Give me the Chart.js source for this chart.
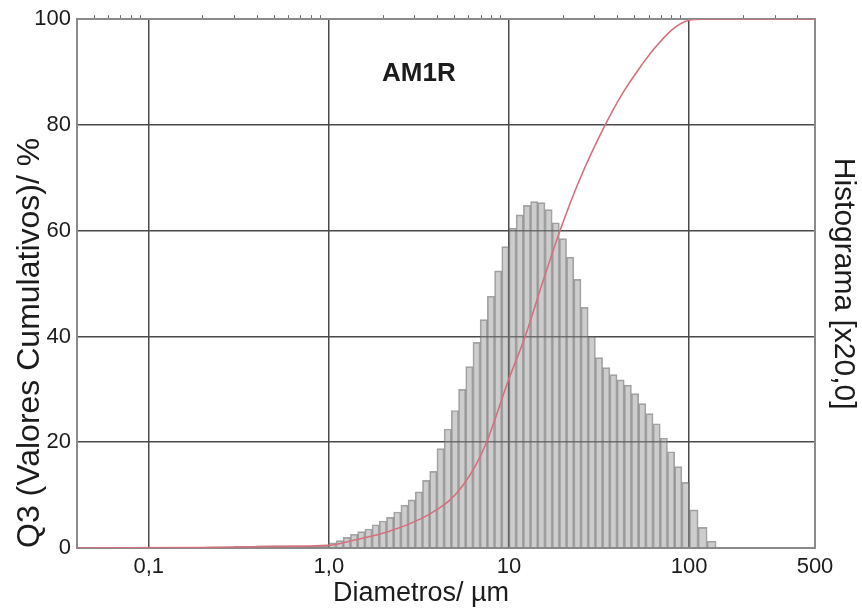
<!DOCTYPE html>
<html>
<head>
<meta charset="utf-8">
<script src="https://cdn.jsdelivr.net/npm/chart.js@4.4.1/dist/chart.umd.min.js"></script>
<style>
    body { margin: 0; background: #fff; }
    #wrap { width: 862px; height: 610px; position: relative; }
</style>
</head>
<body>
<div id="wrap"><canvas id="granuloChart"></canvas></div>
<script>
// histogram classes (µm) and heights
const histDiameters = [0.25, 0.35, 0.45, 0.55, 0.65, 0.75, 0.85, 0.95,
    1.047, 1.148, 1.259, 1.380, 1.514, 1.660, 1.820, 1.995, 2.188, 2.399,
    2.630, 2.884, 3.162, 3.467, 3.802, 4.169, 4.571, 5.012, 5.495, 6.026,
    6.607, 7.244, 7.943, 8.710, 9.550, 10.47, 11.48, 12.59, 13.80, 15.14,
    16.60, 18.20, 19.95, 21.88, 23.99, 26.30, 28.84, 31.62, 34.67, 38.02,
    41.69, 45.71, 50.12, 54.95, 60.26, 66.07, 72.44, 79.43, 87.10, 95.50,
    105.9, 118.9, 133.4];
const histValues = [0.2, 0.3, 0.4, 0.4, 0.4, 0.3, 0.3, 0.4,
    1.0, 1.4, 2.0, 2.6, 3.1, 3.6, 4.4, 5.1, 5.8, 6.8,
    8.1, 9.1, 10.6, 12.8, 14.5, 18.8, 22.5, 26, 30, 34.3,
    38.9, 43.2, 47.6, 52.4, 57, 60.5, 63, 64.8, 65.5, 65.3,
    64, 61.5, 58.5, 55, 50.8, 45.5, 40, 36, 34.1, 32.8,
    31.8, 30.8, 29.2, 27.3, 25.4, 23.5, 20.8, 18.2, 15.4, 12.4,
    7.2, 3.9, 1.3];

// cumulative Q3 curve
const q3Diameters = [0.04, 0.2, 0.5, 1.0, 1.39, 2.15, 3.28, 4.0, 4.64, 5.48, 6.5, 7.55, 10,
    12.3, 15.3, 19.2, 24.5, 34.2, 42.4, 55, 62.5, 80.3, 100, 118, 500];
const q3Values = [0, 0.1, 0.3, 0.5, 1.5, 3.1, 5.6, 7.3, 8.9, 11.6, 15.5, 20.2, 32,
    40, 50, 60, 69.4, 80, 85.8, 91.5, 94, 98, 99.8, 100, 100];

const xTickValues = [0.1, 1, 10, 100, 500];
const xTickLabels = ['0,1', '1,0', '10', '100', '500'];
const topMinorTicks = [0.05, 0.06, 0.07, 0.08, 0.09, 0.2, 0.3, 0.4, 0.5, 0.6, 0.7, 0.8, 0.9,
    2, 3, 4, 5, 6, 7, 8, 9, 20, 30, 40, 50, 60, 70, 80, 90, 200, 300, 400];
const sampleName = 'AM1R';
const xTitle = 'Diametros/ µm';

const textColor = '#1c1c1c';
const fontFamily = "'Liberation Sans', Arial, sans-serif";

const histData = histDiameters.map((d, i) => ({ x: d, y: histValues[i] }));
const q3Data = q3Diameters.map((d, i) => ({ x: d, y: q3Values[i] }));

// sample label inside the plot and the x title (sits left of centre in the original)
const extraText = {
    id: 'extraText',
    afterDraw(chart) {
        const ctx = chart.ctx;
        const x = chart.scales.x.getPixelForValue(3.16);
        const y = chart.scales.y.getPixelForValue(89.6);
        ctx.save();
        ctx.fillStyle = textColor;
        ctx.textAlign = 'center';
        ctx.textBaseline = 'middle';
        ctx.font = 'bold 26px ' + fontFamily;
        ctx.fillText(sampleName, x, y);
        ctx.font = '27px ' + fontFamily;
        ctx.fillText(xTitle, chart.chartArea.left + 344, chart.height - 16);
        ctx.restore();
    }
};

const ctx = document.getElementById('granuloChart');
new Chart(ctx, {
    type: 'bar',
    data: {
        datasets: [{
            type: 'line',
            label: 'Q3',
            data: q3Data,
            borderColor: 'rgb(214,112,124)',
            borderWidth: 1.6,
            pointRadius: 0,
            fill: false,
            cubicInterpolationMode: 'monotone',
            order: 0
        }, {
            label: 'Histograma',
            data: histData,
            backgroundColor: 'rgba(150,150,150,0.48)',
            borderColor: 'rgba(105,105,105,0.6)',
            borderWidth: 1,
            barPercentage: 1,
            categoryPercentage: 1,
            barThickness: 'flex',
            order: 1
        }]
    },
    options: {
        responsive: true,
        maintainAspectRatio: false,
        animation: false,
        layout: { padding: 0 },
        plugins: {
            legend: { display: false },
            tooltip: { enabled: false }
        },
        scales: {
            x: {
                type: 'logarithmic',
                position: 'bottom',
                min: 0.04,
                max: 500,
                offset: false,
                afterBuildTicks: (scale) => {
                    scale.ticks = xTickValues.map(v => ({ value: v }));
                },
                afterFit: (scale) => { scale.height = 62; },
                ticks: {
                    autoSkip: false,
                    maxRotation: 0,
                    padding: 6,
                    color: textColor,
                    font: { family: fontFamily, size: 22 },
                    callback: (value) => {
                        const i = xTickValues.indexOf(value);
                        return i >= 0 ? xTickLabels[i] : '';
                    }
                },
                grid: { color: '#4a4a4a', lineWidth: 1.5, drawTicks: false, offset: false },
                border: { color: '#8a8a8a', width: 2 }
            },
            x2: {
                type: 'logarithmic',
                axis: 'x',
                position: 'top',
                min: 0.04,
                max: 500,
                offset: false,
                afterBuildTicks: (scale) => {
                    scale.ticks = topMinorTicks.map(v => ({ value: v }));
                },
                afterFit: (scale) => { scale.height = 18; },
                ticks: { display: false },
                grid: { drawOnChartArea: false, offset: false, tickLength: 4, color: '#6a6a6a', lineWidth: 1 },
                border: { color: '#8a8a8a', width: 2 }
            },
            y: {
                position: 'left',
                min: 0,
                max: 100,
                afterFit: (scale) => { scale.width = 77; },
                ticks: {
                    stepSize: 20,
                    padding: 6,
                    color: textColor,
                    font: { family: fontFamily, size: 22 }
                },
                grid: { color: '#4a4a4a', lineWidth: 1.5, drawTicks: false },
                border: { color: '#8a8a8a', width: 2 },
                title: {
                    display: true,
                    align: 'start',
                    text: 'Q3 (Valores Cumulativos)/ %',
                    color: textColor,
                    font: { family: fontFamily, size: 32 },
                    padding: { top: 11, bottom: 0 }
                }
            },
            y2: {
                position: 'right',
                min: 0,
                max: 100,
                afterFit: (scale) => { scale.width = 47; },
                ticks: { display: false },
                grid: { drawOnChartArea: false, drawTicks: false },
                border: { color: '#8a8a8a', width: 2 },
                title: {
                    display: true,
                    text: 'Histograma [x20,0]',
                    color: textColor,
                    font: { family: fontFamily, size: 30 },
                    padding: { top: 1, bottom: 0 }
                }
            }
        }
    },
    plugins: [extraText]
});
</script>
</body>
</html>
